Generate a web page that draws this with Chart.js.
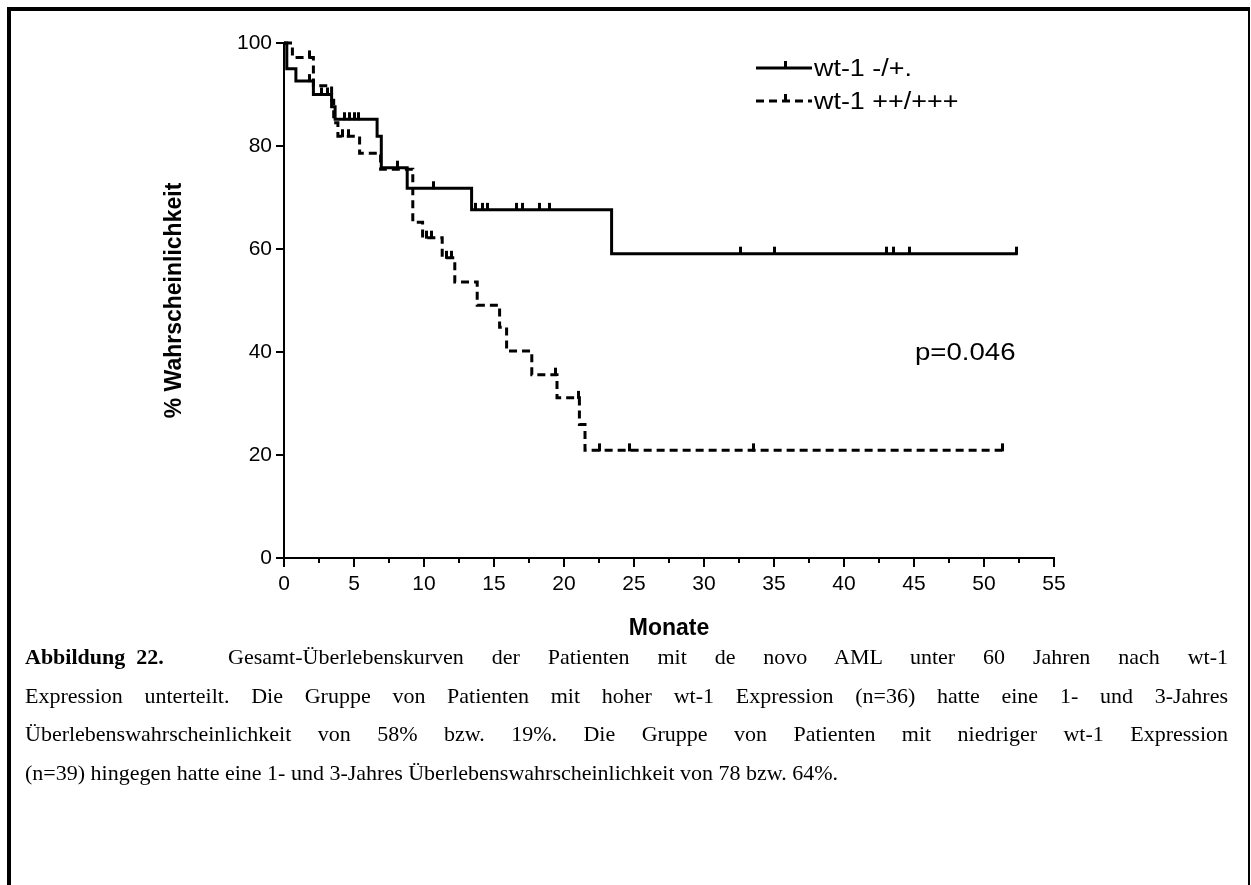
<!DOCTYPE html>
<html>
<head>
<meta charset="utf-8">
<title>Gesamt-Überleben wt-1</title>
<script src="https://cdn.jsdelivr.net/npm/chart.js@4.4.1/dist/chart.umd.min.js"></script>
<style>
  html, body { margin: 0; padding: 0; background: #fff; }
  body { width: 1251px; height: 885px; position: relative; overflow: hidden; }
  #frame { position: absolute; left: 7px; top: 7px; width: 1237px; height: 900px;
           border-left: 4px solid #000; border-top: 4px solid #000; border-right: 2px solid #000; }
  #plot { position: absolute; left: 0; top: 0; }
  #caption { position: absolute; left: 25px; top: 638px; width: 1203px;
             font-family: "Liberation Serif", "Times New Roman", serif; font-size: 22px;
             line-height: 38.5px; color: #000; }
  #caption .ln { text-align: justify; text-align-last: justify; }
  #caption .ln.last { text-align: left; text-align-last: left; }
  #caption .fig { display: inline-block; width: 203px; text-align: left; text-align-last: left; }
</style>
</head>
<body>
<div id="frame"></div>
<canvas id="plot" width="1251" height="650"></canvas>
<div id="caption">
  <div class="ln"><b class="fig">Abbildung&nbsp;&nbsp;22.</b>Gesamt-Überlebenskurven der Patienten mit de novo AML unter 60 Jahren nach wt-1</div>
  <div class="ln">Expression unterteilt. Die Gruppe von Patienten mit hoher wt-1 Expression (n=36) hatte eine 1- und 3-Jahres</div>
  <div class="ln">Überlebenswahrscheinlichkeit von 58% bzw. 19%. Die Gruppe von Patienten mit niedriger wt-1 Expression</div>
  <div class="ln last">(n=39) hingegen hatte eine 1- und 3-Jahres Überlebenswahrscheinlichkeit von 78 bzw. 64%.</div>
</div>
<script>
// Kaplan-Meier: wt-1 -/+. (n=39)
const lowTime   = [0, 0.2, 0.85, 2.1, 3.4, 3.65, 6.65, 6.95, 8.8, 13.4, 23.4, 52.4];
const lowSurv   = [100, 95.0, 92.6, 90.0, 87.6, 85.2, 81.9, 75.8, 71.8, 67.6, 59.1, 59.1];
const lowCensor = [1.83, 2.66, 3.14, 4.33, 4.69, 5.04, 5.33, 8.1, 10.65, 13.7, 14.15, 14.57,
                   16.6, 17.0, 18.26, 18.97, 32.6, 35.0, 43.0, 43.5, 44.7, 52.3];

// Kaplan-Meier: wt-1 ++/+++ (n=36)
const highTime   = [0, 0.6, 2.1, 3.4, 3.55, 3.85, 5.4, 6.9, 9.2, 9.9, 11.3, 12.2, 13.8,
                    15.4, 15.9, 17.7, 19.5, 21.1, 21.5, 51.3];
const highSurv   = [100, 97.2, 91.7, 88.9, 84.5, 81.9, 78.6, 75.5, 65.2, 62.2, 58.3, 53.6, 49.1,
                    44.8, 40.2, 35.6, 31.1, 25.9, 20.9, 20.9];
const highCensor = [1.8, 4.2, 4.6, 10.2, 10.5, 11.6, 11.95, 19.4, 21.0, 22.5, 24.7, 33.5, 51.3];

const xMinorTicks = [2.5, 7.5, 12.5, 17.5, 22.5, 27.5, 32.5, 37.5, 42.5, 47.5, 52.5];
const legendLabels = ['wt-1 -/+.', 'wt-1 ++/+++'];
const pValueText = 'p=0.046';

// survival value in effect at time t
function survAt(times, surv, t) {
  let v = surv[0];
  for (let i = 0; i < times.length; i++) if (times[i] <= t) v = surv[i];
  return v;
}
const toPts = (times, surv) => times.map((t, i) => ({x: t, y: surv[i]}));
const censorPts = (cens, times, surv) => cens.map(t => ({x: t, y: survAt(times, surv, t)}));

// small upward tick used for censored patients
function tickMark() {
  const c = document.createElement('canvas');
  c.width = 3; c.height = 16;
  const g = c.getContext('2d');
  g.fillStyle = '#000';
  g.fillRect(0, 1, 3, 8);
  return c;
}
const censorStyle = tickMark();

Chart.defaults.font.family = '"Liberation Sans", Arial, sans-serif';
Chart.defaults.color = '#000';

// text a little wider than the font's own proportions
function wideText(ctx, text, x, y, stretch) {
  ctx.save();
  ctx.translate(x, y);
  ctx.scale(stretch, 1);
  ctx.fillText(text, 0, 0);
  ctx.restore();
}

const overlay = {
  id: 'overlay',
  afterDraw(chart) {
    const ctx = chart.ctx;
    const xs = chart.scales.x;
    const bottom = chart.chartArea.bottom;
    ctx.save();
    ctx.strokeStyle = '#000';
    ctx.lineWidth = 2;
    // minor x ticks
    xMinorTicks.forEach(v => {
      const px = Math.round(xs.getPixelForValue(v));
      ctx.beginPath(); ctx.moveTo(px, bottom); ctx.lineTo(px, bottom + 5); ctx.stroke();
    });

    // legend
    ctx.lineWidth = 3;
    ctx.beginPath(); ctx.moveTo(756, 68); ctx.lineTo(812, 68); ctx.stroke();
    ctx.setLineDash([8, 5]);
    ctx.beginPath(); ctx.moveTo(756, 101); ctx.lineTo(812, 101); ctx.stroke();
    ctx.setLineDash([]);
    ctx.drawImage(censorStyle, 784, 60);
    ctx.drawImage(censorStyle, 784, 93);

    ctx.fillStyle = '#000';
    ctx.textBaseline = 'middle';
    ctx.font = '23px "Liberation Sans", Arial, sans-serif';
    wideText(ctx, legendLabels[0], 814, 70, 1.17);
    wideText(ctx, legendLabels[1], 814, 103, 1.17);
    wideText(ctx, pValueText, 915, 354, 1.2);
    ctx.restore();
  }
};

new Chart(document.getElementById('plot'), {
  type: 'line',
  data: {
    datasets: [
      { data: toPts(lowTime, lowSurv), stepped: 'before', borderColor: '#000', borderWidth: 3,
        pointRadius: 0, fill: false, clip: 8 },
      { data: toPts(highTime, highSurv), stepped: 'before', borderColor: '#000', borderWidth: 3,
        borderDash: [8, 5], pointRadius: 0, fill: false, clip: 8 },
      { type: 'scatter', data: censorPts(lowCensor, lowTime, lowSurv), showLine: false,
        pointStyle: censorStyle, pointRadius: 4, clip: 8 },
      { type: 'scatter', data: censorPts(highCensor, highTime, highSurv), showLine: false,
        pointStyle: censorStyle, pointRadius: 4, clip: 8 }
    ]
  },
  options: {
    responsive: false,
    animation: false,
    devicePixelRatio: 1,
    layout: { padding: { left: 0, top: 43, right: 197, bottom: 0 } },
    plugins: { legend: { display: false }, tooltip: { enabled: false } },
    scales: {
      x: {
        type: 'linear', min: 0, max: 55,
        afterFit(s) { s.height = 92; },
        ticks: { stepSize: 5, font: { size: 21 }, padding: 5, maxRotation: 0 },
        grid: { drawOnChartArea: false, drawTicks: true, tickLength: 9, color: '#000', lineWidth: 2 },
        border: { display: true, color: '#000', width: 2 },
        title: { display: true, text: 'Monate', font: { size: 23, weight: 'bold' },
                 padding: { top: 0, bottom: 8 } }
      },
      y: {
        min: 0, max: 100,
        afterFit(s) { s.width = 284; },
        ticks: { stepSize: 20, font: { size: 21 }, padding: 4 },
        grid: { drawOnChartArea: false, drawTicks: true, tickLength: 8, color: '#000', lineWidth: 2 },
        border: { display: true, color: '#000', width: 2 },
        title: { display: true, text: '% Wahrscheinlichkeit', font: { size: 23, weight: 'bold' },
                 padding: { top: 161, bottom: 0 } }
      }
    }
  },
  plugins: [overlay]
});
</script>
</body>
</html>
